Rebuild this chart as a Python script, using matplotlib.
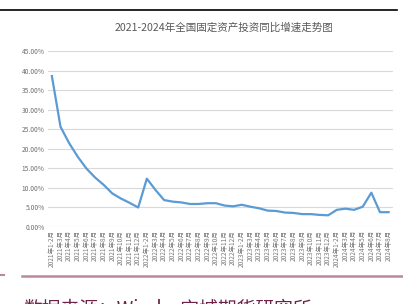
import matplotlib.pyplot as plt
from matplotlib.lines import Line2D

plt.rcParams['font.family'] = ['Noto Sans CJK SC', 'DejaVu Sans']

# 月份
months = ['2021年1-2月', '2021年3月', '2021年4月', '2021年5月', '2021年6月', '2021年7月',
          '2021年8月', '2021年9月', '2021年10月', '2021年11月', '2021年12月',
          '2022年1-2月', '2022年3月', '2022年4月', '2022年5月', '2022年6月', '2022年7月',
          '2022年8月', '2022年9月', '2022年10月', '2022年11月', '2022年12月',
          '2023年1-2月', '2023年3月', '2023年4月', '2023年5月', '2023年6月', '2023年7月',
          '2023年8月', '2023年9月', '2023年10月', '2023年11月', '2023年12月',
          '2024年1-2月', '2024年3月', '2024年4月', '2024年5月', '2024年6月', '2024年7月',
          '2024年8月']

# 同比增速 (%)
growth = [38.7, 25.7, 21.5, 18.0, 15.0, 12.7, 10.8, 8.6, 7.3, 6.2, 5.0,
          12.4, 9.5, 6.9, 6.5, 6.3, 5.9, 5.9, 6.1, 6.1, 5.5, 5.3,
          5.7, 5.2, 4.8, 4.2, 4.1, 3.7, 3.6, 3.3, 3.3, 3.1, 3.0,
          4.4, 4.7, 4.4, 5.2, 8.8, 3.8, 3.8]

yticks = [0, 5, 10, 15, 20, 25, 30, 35, 40, 45]

fig = plt.figure(figsize=(4.03, 3.04), dpi=100)
ax = fig.add_axes([0.118, 0.2533, 0.857, 0.5773])

x = list(range(len(months)))
ax.plot(x, growth, color='#5b9bd5', lw=1.6, solid_joinstyle='round')

ax.set_xlim(-0.5, len(months) - 0.5)
ax.set_ylim(0, 45)
ax.set_yticks(yticks)
ax.set_yticklabels([f'{v:.2f}%' for v in yticks], fontsize=4.8, color='#6f6f6f')
ax.set_xticks(x)
ax.set_xticklabels(months, rotation=90, fontsize=4.7, color='#7a7a7a')
ax.tick_params(length=0, pad=2)
ax.grid(axis='y', color='#d9d9d9', lw=0.8)
ax.set_axisbelow(True)
for s in ax.spines.values():
    s.set_visible(False)

fig.text(0.556, 0.908, '2021-2024年全国固定资产投资同比增速走势图',
         ha='center', va='center', fontsize=7.6, color='#595959')

# 上边的黑线
fig.add_artist(Line2D([0, 0.985], [0.9655, 0.9655], color='black', lw=1.2,
                      transform=fig.transFigure))
# 下边的粉线
fig.add_artist(Line2D([0.055, 1.0], [0.092, 0.092], color='#b8899f', lw=1.8,
                      transform=fig.transFigure))
fig.add_artist(Line2D([0, 0.01], [0.095, 0.095], color='#b8899f', lw=1.5,
                      transform=fig.transFigure))

fig.text(0.058, 0.02, '数据来源：Wind，宝城期货研究所', ha='left', va='top',
         fontsize=13.5, color='#6e2148')

fig.savefig('out.png', dpi=100)
